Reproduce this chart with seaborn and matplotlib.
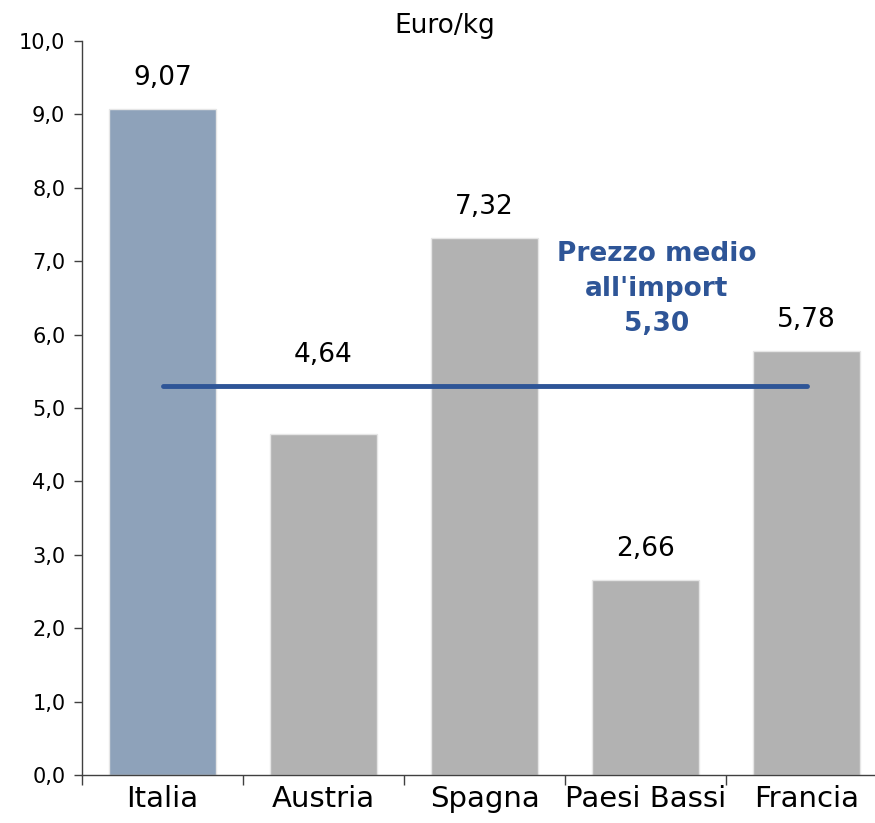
import numpy as np
import pandas as pd
import matplotlib.pyplot as plt
import seaborn as sns

plt.switch_backend('Agg')

# data
paesi = ['Italia', 'Austria', 'Spagna', 'Paesi Bassi', 'Francia']
prezzi = [9.07, 4.64, 7.32, 2.66, 5.78]
prezzo_medio = 5.30
colori = ['#8EA2BA', '#B2B2B2', '#B2B2B2', '#B2B2B2', '#B2B2B2']
blu = '#2E5597'

sns.set_style('white')
plt.rcParams['font.family'] = ['DejaVu Sans']
plt.rcParams['text.color'] = 'black'
plt.rcParams['xtick.color'] = '#404040'
plt.rcParams['ytick.color'] = '#404040'
plt.rcParams['xtick.labelcolor'] = 'black'
plt.rcParams['ytick.labelcolor'] = 'black'

df = pd.DataFrame({'paese': paesi, 'prezzo': prezzi})

fig = plt.figure(figsize=(8.75, 8.23), dpi=100)
ax = fig.add_axes([82 / 875, 48 / 823, 805 / 875, 734 / 823])

sns.barplot(data=df, x='paese', y='prezzo', hue='paese', palette=colori,
            width=0.67, saturation=1, legend=False, ax=ax,
            edgecolor='#E6E6E6', linewidth=1)

# average line between first and last bar centres
ax.plot([0, len(paesi) - 1], [prezzo_medio, prezzo_medio], color=blu, lw=3.5,
        solid_capstyle='round', zorder=3)

# value labels; a bar just under the line gets its label above the line
for i, v in enumerate(prezzi):
    y = v if v >= prezzo_medio or v < prezzo_medio - 1.5 else prezzo_medio
    ax.text(i, y + 0.42, f'{v:.2f}'.replace('.', ','), ha='center', va='center',
            fontsize=19, color='black')

ax.text(3.07, 6.62, "Prezzo medio\nall'import\n" + f'{prezzo_medio:.2f}'.replace('.', ','),
        ha='center', va='center', fontsize=19, fontweight='bold', color=blu,
        linespacing=1.45)

ax.set_xlim(-0.5, len(paesi) - 0.5)
ax.set_ylim(0, 10)
ax.set_yticks(np.arange(0, 10.1, 1))
ax.set_yticklabels([f'{t:.1f}'.replace('.', ',') for t in np.arange(0, 10.1, 1)], fontsize=15)
ax.set_xticks(range(len(paesi)))
ax.set_xticklabels(paesi, fontsize=21)
ax.set_xticks(np.arange(-0.5, len(paesi), 1), minor=True)
ax.tick_params(axis='x', which='major', bottom=True, length=0, pad=7)
ax.tick_params(axis='x', which='minor', bottom=True, length=7, width=1, direction='out')
ax.tick_params(axis='y', left=True, length=6, width=1, direction='out', pad=6)
ax.set_xlabel('')
ax.set_ylabel('')

for s in ['top', 'right']:
    ax.spines[s].set_visible(False)
for s in ['left', 'bottom']:
    ax.spines[s].set_color('#404040')
    ax.spines[s].set_linewidth(1)

fig.text(445 / 875, 1 - 26 / 823, 'Euro/kg', ha='center', va='center', fontsize=19)

fig.savefig('out.png', dpi=100)
